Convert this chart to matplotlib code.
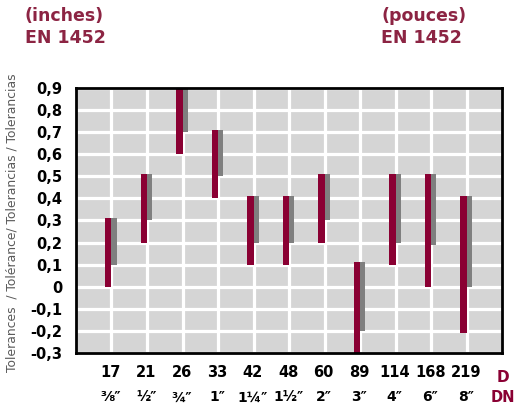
import numpy as np
import matplotlib.pyplot as plt

dn = ["17", "21", "26", "33", "42", "48", "60", "89", "114", "168", "219"]
inch = ["⅜″", "½″", "¾″", "1″", "1¼″", "1½″", "2″", "3″", "4″", "6″", "8″"]
red_lo = [0.0, 0.2, 0.6, 0.4, 0.1, 0.1, 0.2, -0.3, 0.1, 0.0, -0.21]
red_hi = [0.31, 0.51, 0.9, 0.71, 0.41, 0.41, 0.51, 0.11, 0.51, 0.51, 0.41]
gray_lo = [0.1, 0.3, 0.7, 0.5, 0.2, 0.2, 0.3, -0.2, 0.2, 0.19, 0.0]
gray_hi = [0.31, 0.51, 0.9, 0.71, 0.41, 0.41, 0.51, 0.11, 0.51, 0.51, 0.41]
yticks = [-0.3, -0.2, -0.1, 0, 0.1, 0.2, 0.3, 0.4, 0.5, 0.6, 0.7, 0.8, 0.9]

crimson = "#8a0033"
title_col = "#8c2443"

fig = plt.figure(figsize=(5.17, 4.09), dpi=100)
ax = fig.add_axes([0.147, 0.137, 0.824, 0.648])
ax.set_facecolor("#d5d5d5")

x = np.arange(1, len(dn) + 1)
rl = np.array(red_lo); rh = np.array(red_hi)
gl = np.array(gray_lo); gh = np.array(gray_hi)
ax.bar(x, gh - gl, bottom=gl, width=0.15, align="edge", color="#7f7f7f", zorder=3)
ax.bar(x, rh - rl, bottom=rl, width=-0.17, align="edge", color=crimson, zorder=4)

for xv in x:
    ax.axvline(xv, color="white", lw=2.3, zorder=1)
for yv in yticks:
    ax.axhline(yv, color="white", lw=2.3, zorder=1)

ax.set_xlim(0, 12)
ax.set_ylim(-0.3, 0.9)
ax.set_xticks([])
ax.set_yticks(yticks)
ax.set_yticklabels(["0" if v == 0 else f"{v:.1f}".replace(".", ",") for v in yticks],
                   fontsize=10.5, fontweight="bold")
ax.tick_params(axis="y", length=0, pad=10)
for s in ax.spines.values():
    s.set_linewidth(2)
    s.set_color("black")
    s.set_zorder(5)

tr = ax.get_xaxis_transform()
for xv, a, b in zip(x, dn, inch):
    ax.text(xv - 0.02, -0.075, a, transform=tr, ha="center", va="center",
            fontsize=10.5, fontweight="bold", clip_on=False)
    ax.text(xv - 0.02, -0.168, b, transform=tr, ha="center", va="center",
            fontsize=10, fontweight="bold", clip_on=False)

# D / DN row markers at the right edge
fig.text(0.985, 0.078, "D", ha="right", va="center",
         fontsize=11, fontweight="bold", color=crimson)
fig.text(0.997, 0.029, "DN", ha="right", va="center",
         fontsize=10.5, fontweight="bold", color=crimson)

fig.text(0.023, 0.455, "Tolerances  / Tolérance/ Tolerancias / Tolerancias",
         rotation=90, ha="center", va="center", fontsize=8.9, color="#5a5a5a")

fig.text(0.048, 0.960, "(inches)", fontsize=12.5, fontweight="bold", color=title_col, va="center")
fig.text(0.048, 0.908, "EN 1452", fontsize=12.5, fontweight="bold", color=title_col, va="center")
fig.text(0.737, 0.960, "(pouces)", fontsize=12.5, fontweight="bold", color=title_col, va="center")
fig.text(0.737, 0.908, "EN 1452", fontsize=12.5, fontweight="bold", color=title_col, va="center")

fig.savefig("out.png", dpi=100)
